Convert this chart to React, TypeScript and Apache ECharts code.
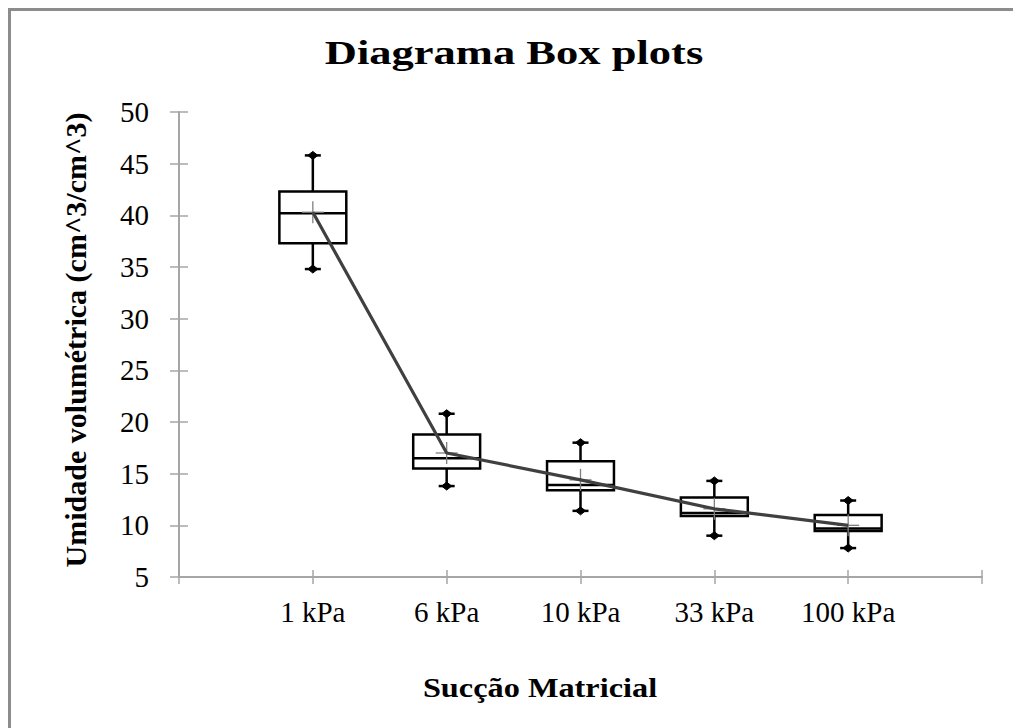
import React, { useEffect, useRef } from "react";
import * as echarts from "echarts";

const categories = ["1 kPa", "6 kPa", "10 kPa", "33 kPa", "100 kPa"];
const minVals = [34.8, 13.8, 11.4, 9.0, 7.8];
const q1Vals = [37.3, 15.5, 13.4, 10.9, 9.45];
const medianVals = [40.2, 16.5, 13.9, 11.2, 9.7];
const q3Vals = [42.3, 18.8, 16.2, 12.7, 11.0];
const maxVals = [45.8, 20.8, 18.0, 14.3, 12.4];
const meanVals = [40.3, 17.0, 14.4, 11.6, 10.0];
const yTicks = { min: 5, max: 50, interval: 5 };

const titleText = "Diagrama Box plots";
const xTitle = "Sucção Matricial";
const yTitle = "Umidade volumétrica (cm^3/cm^3)";

const FONT = '"Liberation Serif", "Times New Roman", serif';

export default function App() {
  const ref = useRef<HTMLDivElement>(null);
  useEffect(() => {
    if (!ref.current) return;
    const chart = echarts.init(ref.current, null, { renderer: "svg" });
    const axisData = ["", ...categories, ""];
    const boxData = categories.map((c, i) => [c, minVals[i], q1Vals[i], medianVals[i], q3Vals[i], maxVals[i]]);
    const meanData = categories.map((c, i) => [c, meanVals[i]]);

    const cap = (cx: number, y: number) => [
      { type: "line", shape: { x1: cx - 8, y1: y, x2: cx + 8, y2: y }, style: { stroke: "#000", lineWidth: 2.5 } },
      {
        type: "polygon",
        shape: { points: [[cx - 5, y], [cx, y - 4], [cx + 5, y], [cx, y + 4]] },
        style: { fill: "#000", stroke: "#000", lineWidth: 1 },
      },
    ];

    const tickStyle = { color: "#a6a6a6", width: 1.5 };

    chart.setOption({
      animation: false,
      backgroundColor: "#fff",
      grid: { left: 179, top: 112, right: 31, bottom: 151, containLabel: false },
      xAxis: [
        {
          type: "category",
          data: axisData,
          boundaryGap: false,
          axisLine: { lineStyle: { color: "#a6a6a6", width: 2 } },
          axisTick: { show: true, inside: false, length: 7, lineStyle: tickStyle },
          axisLabel: { fontFamily: FONT, fontSize: 29, color: "#000", margin: 20, interval: 0 },
          splitLine: { show: false },
        },
        {
          type: "category",
          data: axisData,
          boundaryGap: false,
          position: "bottom",
          axisLine: { show: false },
          axisTick: { show: true, inside: true, length: 7, lineStyle: tickStyle },
          axisLabel: { show: false },
          splitLine: { show: false },
        },
      ],
      yAxis: [
        {
          type: "value",
          min: yTicks.min,
          max: yTicks.max,
          interval: yTicks.interval,
          axisLine: { show: true, lineStyle: { color: "#a6a6a6", width: 2 } },
          axisTick: { show: true, inside: false, length: 9, lineStyle: tickStyle },
          axisLabel: { fontFamily: FONT, fontSize: 29, color: "#000", margin: 30 },
          splitLine: { show: false },
        },
        {
          type: "value",
          min: yTicks.min,
          max: yTicks.max,
          interval: yTicks.interval,
          position: "left",
          axisLine: { show: false },
          axisTick: { show: true, inside: true, length: 9, lineStyle: tickStyle },
          axisLabel: { show: false },
          splitLine: { show: false },
        },
      ],
      graphic: [
        {
          type: "rect",
          shape: { x: 8, y: 8, width: 1005, height: 3 },
          style: { fill: "#8c8c8c" },
          silent: true,
        },
        {
          type: "rect",
          shape: { x: 8, y: 8, width: 3, height: 720 },
          style: { fill: "#8c8c8c" },
          silent: true,
        },
        {
          type: "text",
          x: 514,
          y: 53,
          scaleX: 1.31,
          style: {
            text: titleText,
            fontFamily: FONT,
            fontWeight: "bold",
            fontSize: 34,
            fill: "#000",
            textAlign: "center",
            textVerticalAlign: "middle",
            align: "center",
            verticalAlign: "middle",
          },
        },
        {
          type: "text",
          x: 540,
          y: 688,
          scaleX: 1.22,
          style: {
            text: xTitle,
            fontFamily: FONT,
            fontWeight: "bold",
            fontSize: 26.5,
            fill: "#000",
            textAlign: "center",
            textVerticalAlign: "middle",
            align: "center",
            verticalAlign: "middle",
          },
        },
        {
          type: "text",
          x: 75,
          y: 340,
          rotation: Math.PI / 2,
          style: {
            text: yTitle,
            fontFamily: FONT,
            fontWeight: "bold",
            fontSize: 30,
            fill: "#000",
            textAlign: "center",
            textVerticalAlign: "middle",
            align: "center",
            verticalAlign: "middle",
          },
        },
      ],
      series: [
        {
          type: "custom",
          name: "box",
          xAxisIndex: 0,
          yAxisIndex: 0,
          z: 2,
          encode: { x: 0, y: [1, 2, 3, 4, 5] },
          data: boxData,
          renderItem: (params: any, api: any) => {
            const x = api.value(0);
            const lo = api.coord([x, api.value(1)]);
            const q1 = api.coord([x, api.value(2)]);
            const md = api.coord([x, api.value(3)]);
            const q3 = api.coord([x, api.value(4)]);
            const hi = api.coord([x, api.value(5)]);
            const bw = api.size([1, 0])[0] * 0.5;
            const cx = md[0];
            const ls = { stroke: "#000", lineWidth: 2.5 };
            return {
              type: "group",
              children: [
                { type: "line", shape: { x1: cx, y1: hi[1], x2: cx, y2: q3[1] }, style: ls },
                { type: "line", shape: { x1: cx, y1: q1[1], x2: cx, y2: lo[1] }, style: ls },
                {
                  type: "rect",
                  shape: { x: cx - bw / 2, y: q3[1], width: bw, height: q1[1] - q3[1] },
                  style: { fill: "#fff", stroke: "#000", lineWidth: 2.5 },
                },
                { type: "line", shape: { x1: cx - bw / 2, y1: md[1], x2: cx + bw / 2, y2: md[1] }, style: ls },
                ...cap(cx, hi[1]),
                ...cap(cx, lo[1]),
              ],
            };
          },
        },
        {
          type: "custom",
          name: "meanMarker",
          xAxisIndex: 0,
          yAxisIndex: 0,
          z: 3,
          encode: { x: 0, y: 1 },
          data: meanData,
          renderItem: (params: any, api: any) => {
            const p = api.coord([api.value(0), api.value(1)]);
            const s = { stroke: "#7f7f7f", lineWidth: 1.3 };
            return {
              type: "group",
              children: [
                { type: "line", shape: { x1: p[0] - 11, y1: p[1], x2: p[0] + 11, y2: p[1] }, style: s },
                { type: "line", shape: { x1: p[0], y1: p[1] - 11, x2: p[0], y2: p[1] + 11 }, style: s },
              ],
            };
          },
        },
        {
          type: "line",
          name: "mean",
          xAxisIndex: 0,
          yAxisIndex: 0,
          z: 4,
          data: meanData,
          symbol: "none",
          lineStyle: { color: "#404040", width: 3.2 },
        },
      ],
    });
    return () => chart.dispose();
  }, []);
  return <div ref={ref} style={{ position: "fixed", left: 0, top: 0, width: 1013, height: 728 }} />;
}
